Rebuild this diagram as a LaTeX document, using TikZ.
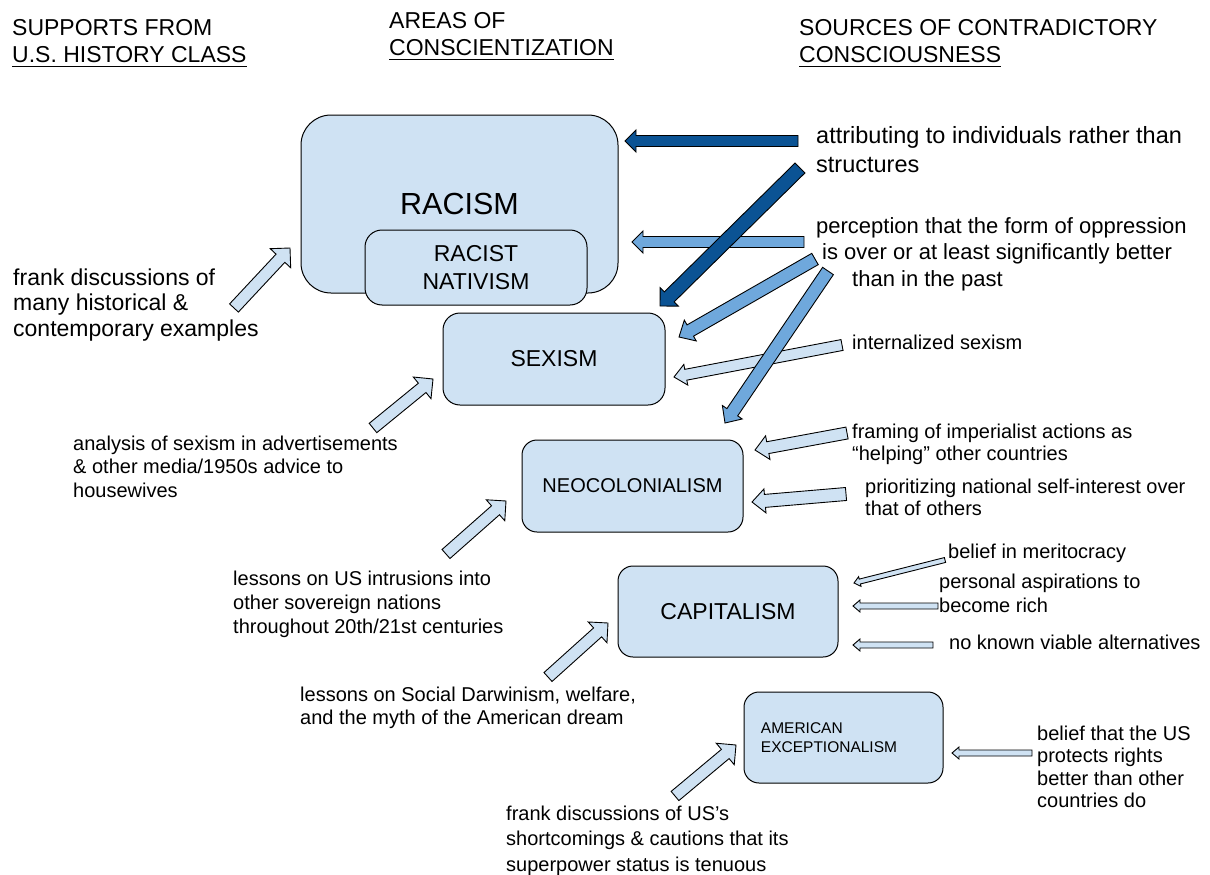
\documentclass[tikz,border=0pt]{standalone}
\usepackage{fontspec}
\setmainfont{Liberation Sans}
\usetikzlibrary{calc}

\definecolor{boxfill}{HTML}{CFE2F3}
\definecolor{midblue}{HTML}{6FA8DC}
\definecolor{darkblue}{HTML}{0B5394}

% font size and line spacing
\newcommand\fs[2]{\fontsize{#1}{#2}\selectfont}
% left-aligned block whose reference point is the first baseline
\newcommand\stack[1]{\begin{tabular}[t]{@{}l@{}}#1\end{tabular}}
% underlined heading line
\newcommand\ulin[1]{\setbox0=\hbox{#1}\rlap{\rule[-4.2pt]{\wd0}{1.4pt}}\box0}
% block arrow: style, tail, tip, half shaft width, half head width, head length
\newcommand\blockarrow[6]{%
  \coordinate (baBack) at ($(#3)!#6!(#2)$);
  \draw[#1] ($(#2)!#4!90:(#3)$) -- ($(baBack)!#4!90:(#3)$)
    -- ($(baBack)!#5!90:(#3)$) -- (#3)
    -- ($(baBack)!#5!-90:(#3)$) -- ($(baBack)!#4!-90:(#3)$)
    -- ($(#2)!#4!-90:(#3)$) -- cycle;
}

\begin{document}
\begin{tikzpicture}[x=1pt,y=-1pt,
  box/.style={draw=black, line width=1pt, fill=boxfill, inner sep=0pt, text=black},
  lbl/.style={anchor=base west, inner sep=0pt, text=black},
  arrowbase/.style={draw=black, line width=0.9pt, line join=miter},
  lightarrow/.style={arrowbase, fill=boxfill},
  midarrow/.style={arrowbase, fill=midblue},
  darkarrow/.style={arrowbase, fill=darkblue}]
\useasboundingbox (0,0) rectangle (1210,875);

% ---------- column headings ----------
\node[lbl, font=\fs{23}{27}] (hdSupport) at (12,36)
  {\stack{SUPPORTS FROM\\\ulin{U.S. HISTORY CLASS}}};
\node[lbl, font=\fs{23}{27}] (hdAreas) at (389,29)
  {\stack{AREAS OF\\\ulin{CONSCIENTIZATION}}};
\node[lbl, font=\fs{23}{27}] (hdSources) at (799,36)
  {\stack{SOURCES OF CONTRADICTORY\\\ulin{CONSCIOUSNESS}}};

% ---------- areas of conscientization ----------
\node[box, rounded corners=30pt, minimum width=317pt, minimum height=178pt,
      font=\fs{30.5}{34}] (racism) at (459.5,204) {RACISM};
\node[box, rounded corners=17pt, minimum width=222pt, minimum height=75pt,
      align=center, font=\fs{23}{28}] (nativism) at (476,267.5) {RACIST\\NATIVISM};
\node[box, rounded corners=17pt, minimum width=222pt, minimum height=92pt,
      font=\fs{23}{26}] (sexism) at (554,359) {SEXISM};
\node[box, rounded corners=15pt, minimum width=221pt, minimum height=92pt,
      font=\fs{20}{23}] (neocol) at (632.5,486) {NEOCOLONIALISM};
\node[box, rounded corners=15pt, minimum width=220pt, minimum height=91pt,
      font=\fs{23}{26}] (capital) at (728,611.5) {CAPITALISM};
\node[box, rounded corners=15pt, minimum width=199pt, minimum height=91pt,
      align=left, font=\fs{15.5}{19}] (amex) at (843.5,737.5)
  {AMERICAN\\EXCEPTIONALISM\hspace*{29pt}};

% ---------- supports (left) ----------
\node[lbl, font=\fs{23}{25.5}] (supFrank) at (13,285)
  {\stack{frank discussions of\\many historical \&\\contemporary examples}};
\node[lbl, font=\fs{20}{23.5}] (supAds) at (73,450)
  {\stack{analysis of sexism in advertisements\\\& other media/1950s advice to\\housewives}};
\node[lbl, font=\fs{20}{24}] (supIntrusions) at (233,585)
  {\stack{lessons on US intrusions into\\other sovereign nations\\throughout 20th/21st centuries}};
\node[lbl, font=\fs{20}{23}] (supDarwin) at (300,701)
  {\stack{lessons on Social Darwinism, welfare,\\and the myth of the American dream}};
\node[lbl, font=\fs{20}{25.5}] (supShort) at (506,820)
  {\stack{frank discussions of US’s\\shortcomings \& cautions that its\\superpower status is tenuous}};

% ---------- sources of contradictory consciousness (right) ----------
\node[lbl, font=\fs{23.5}{29}] (srcIndiv) at (816,143)
  {\stack{attributing to individuals rather than\\structures}};
\node[lbl, font=\fs{22}{26.5}] (srcOver) at (816,233)
  {\stack{perception that the form of oppression\\\hspace*{6pt}is over or at least significantly better\\\hspace*{36pt}than in the past}};
\node[lbl, font=\fs{20}{22}] (srcIntern) at (852,349) {internalized sexism};
\node[lbl, font=\fs{20}{22}] (srcHelping) at (852,438)
  {\stack{framing of imperialist actions as\\“helping” other countries}};
\node[lbl, font=\fs{20}{22}] (srcSelf) at (865,493)
  {\stack{prioritizing national self-interest over\\that of others}};
\node[lbl, font=\fs{20}{22}] (srcMerit) at (948,558) {belief in meritocracy};
\node[lbl, font=\fs{20}{24}] (srcRich) at (939,588)
  {\stack{personal aspirations to\\become rich}};
\node[lbl, font=\fs{20}{22}] (srcAlt) at (949,649) {no known viable alternatives};
\node[lbl, font=\fs{20}{22.5}] (srcRights) at (1037,740)
  {\stack{belief that the US\\protects rights\\better than other\\countries do}};

% ---------- arrow end points ----------
\coordinate (frankTail) at (234,308);    \coordinate (frankTip) at (290,248);
\coordinate (adsTail) at (373,428);      \coordinate (adsTip) at (433,379);
\coordinate (intrTail) at (446,554);     \coordinate (intrTip) at (506,501);
\coordinate (darwTail) at (548,677);     \coordinate (darwTip) at (608,623);
\coordinate (shortTail) at (675,796);    \coordinate (shortTip) at (736,745);

\coordinate (indivTailA) at (798,141);   \coordinate (indivTipA) at (625,141);
\coordinate (indivTailB) at (800,168);   \coordinate (indivTipB) at (660,306);
\coordinate (overTailA) at (804,242);    \coordinate (overTipA) at (632,242);
\coordinate (overTailB) at (815,259);    \coordinate (overTipB) at (679,337);
\coordinate (overTailC) at (828,271);    \coordinate (overTipC) at (725,423);
\coordinate (internTail) at (842,345);   \coordinate (internTip) at (674,377);
\coordinate (helpTail) at (847,433);     \coordinate (helpTip) at (755,450);
\coordinate (selfTail) at (846,494);     \coordinate (selfTip) at (752,502);
\coordinate (meritTail) at (945,560);    \coordinate (meritTip) at (854,583);
\coordinate (richTail) at (938,606);     \coordinate (richTip) at (853,606);
\coordinate (altTail) at (933,645);      \coordinate (altTip) at (853,645);
\coordinate (rightsTail) at (1032,753);  \coordinate (rightsTip) at (952,753);

% ---------- light arrows ----------
\blockarrow{lightarrow}{frankTail}{frankTip}{6pt}{14pt}{14pt}
\blockarrow{lightarrow}{adsTail}{adsTip}{6pt}{14pt}{14pt}
\blockarrow{lightarrow}{intrTail}{intrTip}{6pt}{14pt}{14pt}
\blockarrow{lightarrow}{darwTail}{darwTip}{6pt}{14pt}{14pt}
\blockarrow{lightarrow}{shortTail}{shortTip}{6pt}{14pt}{14pt}
\blockarrow{lightarrow}{internTail}{internTip}{5.5pt}{10.5pt}{12pt}
\blockarrow{lightarrow}{helpTail}{helpTip}{6pt}{12pt}{13pt}
\blockarrow{lightarrow}{selfTail}{selfTip}{6.5pt}{12pt}{13pt}
\blockarrow{lightarrow}{meritTail}{meritTip}{2.5pt}{5pt}{6pt}
\blockarrow{lightarrow}{richTail}{richTip}{3pt}{6pt}{7pt}
\blockarrow{lightarrow}{altTail}{altTip}{3pt}{6pt}{7pt}
\blockarrow{lightarrow}{rightsTail}{rightsTip}{3pt}{6pt}{7pt}

% ---------- medium arrows ----------
\blockarrow{midarrow}{overTailA}{overTipA}{5.5pt}{11pt}{11pt}
\blockarrow{midarrow}{overTailB}{overTipB}{6.5pt}{12pt}{13pt}
\blockarrow{midarrow}{overTailC}{overTipC}{6.5pt}{12pt}{13pt}

% ---------- dark arrows ----------
\blockarrow{darkarrow}{indivTailA}{indivTipA}{5.5pt}{11pt}{11pt}
\blockarrow{darkarrow}{indivTailB}{indivTipB}{7pt}{13pt}{13pt}

\end{tikzpicture}
\end{document}
